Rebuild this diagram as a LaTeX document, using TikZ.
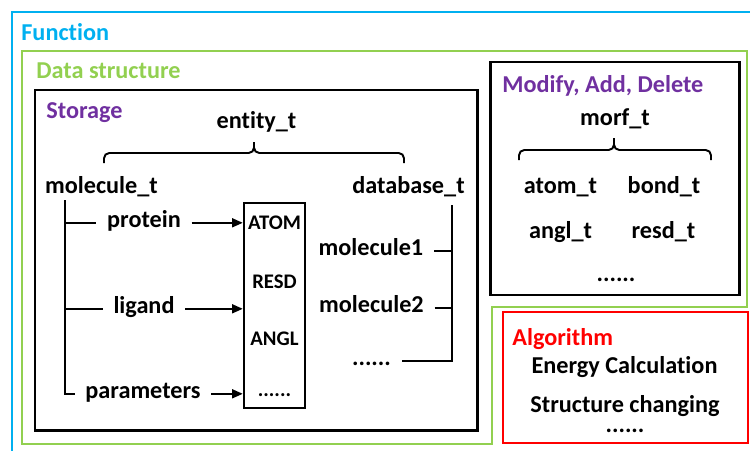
\documentclass[tikz,border=0pt]{standalone}
\usepackage{fontspec}
\setmainfont{Carlito}[Ligatures=NoCommon]
\usetikzlibrary{arrows.meta}
\definecolor{fnblue}{RGB}{0,176,240}
\definecolor{dsgreen}{RGB}{146,208,80}
\definecolor{stpurple}{RGB}{112,48,160}
\definecolor{algred}{RGB}{255,0,0}

\begin{document}
\begin{tikzpicture}[x=0.02cm,y=-0.02cm,
   txt/.style={font=\fontsize{13.8}{16}\selectfont\bfseries,inner xsep=6pt,inner ysep=0pt,anchor=base},
   ttl/.style={txt,inner xsep=0pt,anchor=base west},
   fld/.style={txt,font=\fontsize{11.8}{14}\selectfont\bfseries,inner xsep=2pt},
   tree/.style={line width=1.1pt},
   arr/.style={tree,-{Triangle[length=6pt,width=5pt]}},
   brc/.style={tree,rounded corners=3pt},
   box/.style={line width=1.7pt}]
   \useasboundingbox (0,0) rectangle (750,450);
   % frames
   \draw[fnblue,line width=1.4pt] (12,12) rectangle (770,470);
   \draw[dsgreen,line width=1.1pt] (22,51) -- (747,51) -- (747,307) -- (492,307)
        -- (492,444) -- (22,444) -- cycle;
   \draw[box] (35,90) rectangle (477,430);
   \draw[box] (490,62) rectangle (739,295);
   \draw[algred,line width=1.4pt] (503,312) rectangle (748,443);
   % titles
   \node[ttl,fnblue] (func) at (21,40) {Function};
   \node[ttl,dsgreen] (dstr) at (36,78) {Data structure};
   \node[ttl,stpurple] (stor) at (46,118) {Storage};
   \node[ttl,stpurple] (mod) at (502,92) {Modify, Add, Delete};
   \node[ttl,algred] (alg) at (512,345) {Algorithm};
   % storage
   \node[txt] (ent) at (256.5,128) {entity\_t};
   \coordinate (bl) at (104,163);
   \coordinate (br) at (404,163);
   \coordinate (bt) at (254,142);
   \draw[brc] (bl) -- (104,153) -- (254,153) -- (bt);
   \draw[brc] (br) -- (404,153) -- (254,153) -- (bt);
   \node[txt] (mol) at (101.5,193) {molecule\_t};
   \node[txt] (db) at (408.5,193) {database\_t};
   \node[txt] (prot) at (144,227) {protein};
   \node[txt] (lig) at (144,313) {ligand};
   \node[txt] (param) at (143,398) {parameters};
   \node[draw,line width=1.4pt,minimum width=1.22cm,minimum height=4.1cm] (fields) at (274.5,305.5) {};
   \node[fld] (atom) at (274.5,229) {ATOM};
   \node[fld] (resd) at (274.5,288) {RESD};
   \node[fld] (angl) at (274.5,345) {ANGL};
   \node[fld] (fdots) at (274.5,396) {......};
   \coordinate (ltop) at (65,200);
   \draw[tree] (ltop) |- (param.mid west);
   \draw[tree] (prot.mid west -| ltop) -- (prot.mid west);
   \draw[tree] (lig.mid west -| ltop) -- (lig.mid west);
   \draw[arr] (prot.mid east) -- (prot.mid east -| fields.west);
   \draw[arr] (lig.mid east) -- (lig.mid east -| fields.west);
   \draw[arr] (param.mid east) -- (param.mid east -| fields.west);
   \node[txt] (m1) at (371,255) {molecule1};
   \node[txt] (m2) at (371.5,312) {molecule2};
   \node[txt] (mdots) at (371.5,365) {......};
   \coordinate (rtop) at (452,205);
   \draw[tree] (rtop) |- (mdots.mid east);
   \draw[tree] (m1.mid east) -- (m1.mid east -| rtop);
   \draw[tree] (m2.mid east) -- (m2.mid east -| rtop);
   % modify
   \node[txt] (morf) at (615,125) {morf\_t};
   \coordinate (ml) at (519,160);
   \coordinate (mr) at (711,160);
   \coordinate (mt) at (614,138);
   \draw[brc] (ml) -- (519,150) -- (614,150) -- (mt);
   \draw[brc] (mr) -- (711,150) -- (614,150) -- (mt);
   \node[txt] (atomt) at (560.5,193) {atom\_t};
   \node[txt] (bondt) at (664,193) {bond\_t};
   \node[txt] (anglt) at (560.5,238) {angl\_t};
   \node[txt] (resdt) at (663.5,238) {resd\_t};
   \node[txt] (odots) at (616,281) {......};
   % algorithm
   \node[txt] (energy) at (624.5,373) {Energy Calculation};
   \node[txt] (chg) at (625,412) {Structure changing};
   \node[txt] (adots) at (625,432) {......};
\end{tikzpicture}
\end{document}
